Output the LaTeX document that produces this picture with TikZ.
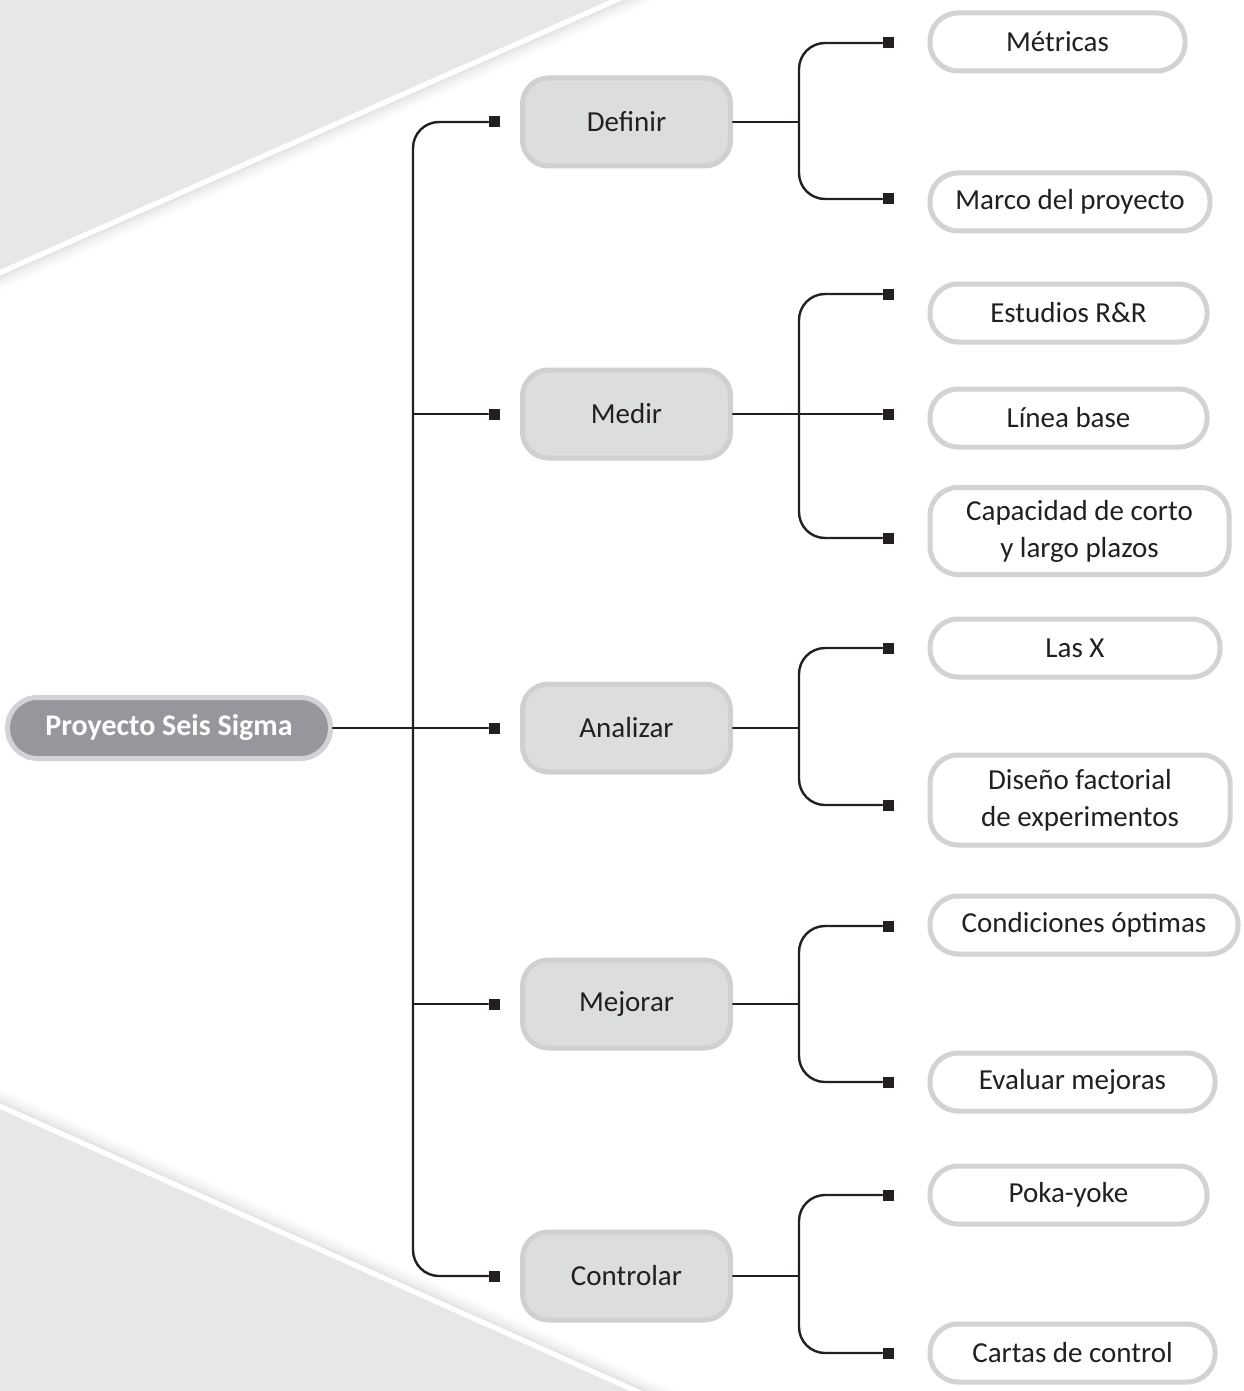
\documentclass[tikz,border=0pt]{standalone}
\usepackage{fontspec}
\setmainfont{Carlito}
\usetikzlibrary{calc}

\definecolor{fondo}{RGB}{230,231,233}
\definecolor{fasefill}{RGB}{220,221,223}
\definecolor{faseline}{RGB}{207,208,210}
\definecolor{raizfill}{RGB}{150,151,156}
\definecolor{hojaline}{RGB}{210,211,213}
\definecolor{tinta}{RGB}{35,31,32}

\begin{document}
\begin{tikzpicture}[
  x=0.5pt, y=-0.5pt,
  line cap=round,
  line join=round,
  every node/.style={font=\fontsize{14.5}{18.5}\selectfont, text=tinta},
  raiz/.style={draw=hojaline, line width=2.5pt, fill=raizfill, rounded corners=15pt,
    minimum width=161.5pt, minimum height=30.5pt, text=white,
    font=\fontsize{15}{18.5}\selectfont\bfseries},
  fase/.style={draw=faseline, line width=2.5pt, fill=fasefill, rounded corners=13pt,
    minimum width=104pt, minimum height=44pt},
  hoja/.style={draw=hojaline, line width=2.5pt, fill=white, rounded corners=14pt,
    minimum height=29pt, anchor=west, align=center, inner sep=0pt},
  cuad/.style={fill=tinta, minimum size=5.5pt, inner sep=0pt},
  enlace/.style={draw=tinta, line width=1.2pt, rounded corners=13pt}
]
  \useasboundingbox (0,0) rectangle (1243,1391);

  % Background wedges
  \begin{scope}
    \clip (0,0) rectangle (1243,1391);
    \fill[fondo] (0,0) -- (610,0) -- (0,270) -- cycle;
    \fill[fondo] (0,1109) -- (630,1391) -- (0,1391) -- cycle;
    \foreach \d/\o in {6/0.10, 8/0.08, 10/0.06, 12/0.045, 14/0.03, 16/0.018, 18/0.008}{
      \draw[black, opacity=\o, line width=1pt]
        ({-50+0.405*\d},{292.1+0.915*\d}) -- ({700+0.405*\d},{-39.8+0.915*\d});
      \draw[black, opacity=\o, line width=1pt]
        ({-50+0.4086*\d},{1086.6-0.9128*\d}) -- ({720+0.4086*\d},{1431.3-0.9128*\d});
    }
    \draw[white, line width=2.5pt] ({-50+1.0},{292.1+2.3}) -- ({700+1.0},{-39.8+2.3});
    \draw[white, line width=2.5pt] ({-50+1.0},{1086.6-2.3}) -- ({720+1.0},{1431.3-2.3});
  \end{scope}

  % Root and phases
  \node[raiz] (seis) at (169,728) {Proyecto Seis Sigma};

  \node[fase] (def) at (626.5,122)  {Definir};
  \node[fase] (med) at (626.5,414)  {Medir};
  \node[fase] (ana) at (626.5,728)  {Analizar};
  \node[fase] (mej) at (626.5,1004) {Mejorar};
  \node[fase] (ctl) at (626.5,1276) {Controlar};

  % Leaves
  \node[hoja, minimum width=127.5pt] (met)  at (927.5,42)   {Métricas};
  \node[hoja, minimum width=140pt]   (mar)  at (927.5,202)  {Marco del proyecto};
  \node[hoja, minimum width=138.5pt] (est)  at (927.5,313)  {Estudios R\&R};
  \node[hoja, minimum width=138.5pt] (lin)  at (927.5,418)  {Línea base};
  \node[hoja, minimum width=149.5pt, minimum height=43.5pt] (cap) at (927.5,531)
    {Capacidad de corto\\y largo plazos};
  \node[hoja, minimum width=145pt]   (lasx) at (927.5,648)  {Las X};
  \node[hoja, minimum width=150pt, minimum height=45pt] (dis) at (927.5,800)
    {Diseño factorial\\de experimentos};
  \node[hoja, minimum width=154pt]   (con)  at (927.5,925)  {Condiciones óptimas};
  \node[hoja, minimum width=142.5pt] (eva)  at (927.5,1082) {Evaluar mejoras};
  \node[hoja, minimum width=138.5pt] (pok)  at (927.5,1195) {Poka-yoke};
  \node[hoja, minimum width=142.5pt] (car)  at (927.5,1353) {Cartas de control};

  % Square ends
  \foreach \n/\y in {def/122, med/414, ana/728, mej/1004, ctl/1276}
    {\node[cuad] (p\n) at (494,\y) {};}
  \foreach \n/\y in {met/43, mar/199, est/294, lin/414, cap/538, lasx/648,
                     dis/805, con/926, eva/1082, pok/1195, car/1353}
    {\node[cuad] (q\n) at (888,\y) {};}

  % Trunk
  \coordinate (tronco) at (413,728);
  \draw[enlace] (pdef) -| (tronco) |- (pctl);
  \draw[enlace] (seis) -- (pana);
  \draw[enlace] (tronco |- pmed) -- (pmed);
  \draw[enlace] (tronco |- pmej) -- (pmej);

  % Branches
  \coordinate (jdef) at (799,122);
  \coordinate (jmed) at (799,414);
  \coordinate (jana) at (799,728);
  \coordinate (jmej) at (799,1004);
  \coordinate (jctl) at (799,1276);

  \draw[enlace] (qmet) -| (jdef) |- (qmar);
  \draw[enlace] (def) -- (jdef);
  \draw[enlace] (qest) -| (jmed) |- (qcap);
  \draw[enlace] (med) -- (qlin);
  \draw[enlace] (qlasx) -| (jana) |- (qdis);
  \draw[enlace] (ana) -- (jana);
  \draw[enlace] (qcon) -| (jmej) |- (qeva);
  \draw[enlace] (mej) -- (jmej);
  \draw[enlace] (qpok) -| (jctl) |- (qcar);
  \draw[enlace] (ctl) -- (jctl);
\end{tikzpicture}
\end{document}
